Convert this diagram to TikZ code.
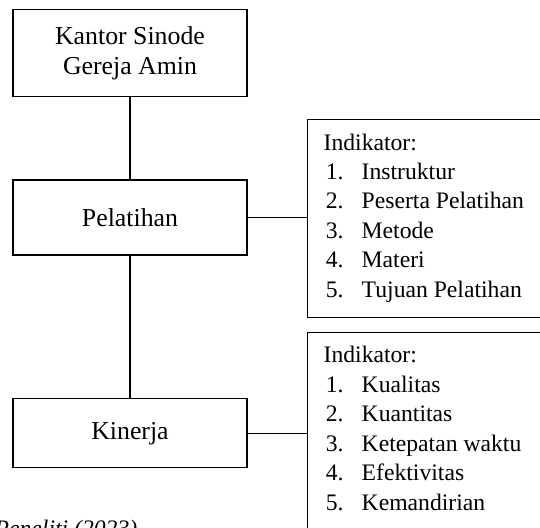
\documentclass[tikz,border=0pt]{standalone}
\usepackage{fontspec}
\setmainfont{Liberation Serif}
\usetikzlibrary{positioning, calc}

\newcommand{\inditem}[2]{\hspace*{1pt}\makebox[16.7pt][l]{#1.}#2}

\begin{document}
\begin{tikzpicture}[x=0.465pt, y=-0.465pt, line width=0.6pt,
    box/.style={draw, align=center, minimum width=108.8pt, font=\fontsize{12}{14}\selectfont},
    indbox/.style={draw, anchor=north west, minimum width=112.5pt},
    indlist/.style={anchor=base west, inner sep=0pt, font=\fontsize{11}{13.7}\selectfont}]
    % Frame of the picture
    \useasboundingbox (0,0) rectangle (540,527);
    \clip (0,0) rectangle (540,527);

    % Main boxes
    \node[box, minimum height=40.5pt] (kantor) at (130,53.2) {Kantor Sinode\\Gereja Amin};
    \node[box, minimum height=34.9pt] (pelatihan) at (130,217.5) {Pelatihan};
    \node[box, minimum height=32.1pt] (kinerja) at (130,433.3) {Kinerja};

    % Indicator boxes
    \node[indbox, minimum height=92.1pt] (ind1) at (306.5,119) {};
    \node[indbox, minimum height=99pt] (ind2) at (306.5,332) {};

    \node[indlist] (list1) at ($(ind1.north west)+(16.5,31)$) {\begin{tabular}[t]{@{}l@{}}
        Indikator:\\
        \inditem{1}{Instruktur}\\
        \inditem{2}{Peserta Pelatihan}\\
        \inditem{3}{Metode}\\
        \inditem{4}{Materi}\\
        \inditem{5}{Tujuan Pelatihan}
    \end{tabular}};
    \node[indlist] (list2) at ($(ind2.north west)+(16.5,30.7)$) {\begin{tabular}[t]{@{}l@{}}
        Indikator:\\
        \inditem{1}{Kualitas}\\
        \inditem{2}{Kuantitas}\\
        \inditem{3}{Ketepatan waktu}\\
        \inditem{4}{Efektivitas}\\
        \inditem{5}{Kemandirian}
    \end{tabular}};

    % Connectors
    \draw (kantor) -- (pelatihan);
    \draw (pelatihan) -- (kinerja);
    \draw (pelatihan.east) -- (pelatihan.east -| ind1.west);
    \draw (kinerja.east) -- (kinerja.east -| ind2.west);

    % Source line
    \node[anchor=base west, inner sep=0pt, font=\fontsize{11}{13}\selectfont\itshape] (sumber) at (-6,536) {Peneliti (2023)};
\end{tikzpicture}
\end{document}
